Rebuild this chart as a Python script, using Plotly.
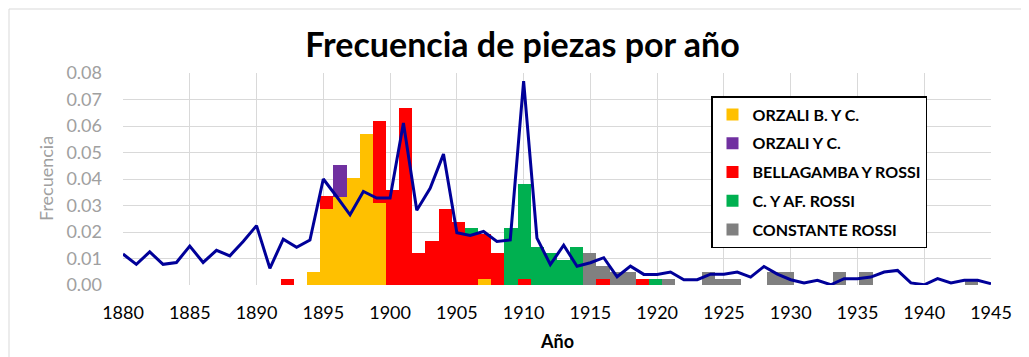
import plotly.graph_objects as go

# ---------------- data ----------------
years = list(range(1880, 1946))
line_freq = [
    0.0117, 0.0078, 0.0125, 0.0078, 0.0085, 0.0147, 0.0085, 0.0131, 0.0110, 0.0164,  # 1880-1889
    0.0224, 0.0063, 0.0173, 0.0142, 0.0170, 0.0400, 0.0334, 0.0265, 0.0353, 0.0328,  # 1890-1899
    0.0328, 0.0611, 0.0282, 0.0365, 0.0494, 0.0197, 0.0187, 0.0202, 0.0164, 0.0170,  # 1900-1909
    0.0769, 0.0177, 0.0077, 0.0150, 0.0071, 0.0084, 0.0103, 0.0031, 0.0071, 0.0040,  # 1910-1919
    0.0040, 0.0049, 0.0020, 0.0020, 0.0041, 0.0041, 0.0049, 0.0030, 0.0070, 0.0041,  # 1920-1929
    0.0020, 0.0008, 0.0018, 0.0001, 0.0024, 0.0024, 0.0030, 0.0049, 0.0055, 0.0008,  # 1930-1939
    0.0001, 0.0024, 0.0008, 0.0018, 0.0018, 0.0005,                                  # 1940-1945
]

orzali_b_years = [1894, 1895, 1896, 1897, 1898, 1899, 1907]
orzali_b_vals = [0.0048, 0.0286, 0.0333, 0.0405, 0.0571, 0.0310, 0.0024]

orzali_years = [1896]
orzali_vals = [0.0119]

bellagamba_years = [1892, 1895, 1899, 1900, 1901, 1902, 1903, 1904, 1905, 1906, 1907, 1908, 1910, 1916, 1919]
bellagamba_vals = [0.0024, 0.0048, 0.0310, 0.0357, 0.0667, 0.0119, 0.0167, 0.0286, 0.0238, 0.0190,
                   0.0167, 0.0119, 0.0024, 0.0024, 0.0024]

cyaf_years = [1906, 1909, 1910, 1911, 1912, 1913, 1914, 1920]
cyaf_vals = [0.0024, 0.0214, 0.0357, 0.0143, 0.0119, 0.0095, 0.0143, 0.0024]

constante_years = [1915, 1916, 1917, 1918, 1921, 1924, 1925, 1926, 1929, 1930, 1934, 1936, 1944]
constante_vals = [0.0119, 0.0048, 0.0048, 0.0048, 0.0024, 0.0048, 0.0024, 0.0024, 0.0048, 0.0048,
                  0.0048, 0.0048, 0.0024]

series = [
    ("ORZALI B. Y C.", orzali_b_years, orzali_b_vals, "#FFC000"),
    ("ORZALI Y C.", orzali_years, orzali_vals, "#7030A0"),
    ("BELLAGAMBA Y ROSSI", bellagamba_years, bellagamba_vals, "#FF0000"),
    ("C. Y AF. ROSSI", cyaf_years, cyaf_vals, "#00B050"),
    ("CONSTANTE ROSSI", constante_years, constante_vals, "#808080"),
]

x_ticks = list(range(1880, 1946, 5))
y_ticks = [0.00, 0.01, 0.02, 0.03, 0.04, 0.05, 0.06, 0.07, 0.08]

FONT = "Lato, 'Open Sans', sans-serif"

# ---------------- figure ----------------
fig = go.Figure()

for i, (name, xs, vs, col) in enumerate(series):
    fig.add_trace(go.Bar(
        x=xs, y=vs, name=name, width=1.0,
        marker=dict(color=col, line=dict(width=0)),
        xaxis="x", yaxis="y", legendgroup=f"g{i}",
    ))

fig.add_trace(go.Scatter(
    x=years, y=line_freq, mode="lines", name="Frecuencia",
    line=dict(color="#000099", width=3),
    xaxis="x2", yaxis="y", showlegend=False,
))

L, R, T, B = 115, 46, 65, 80
W, H = 1029, 357
pw, ph = W - L - R, H - T - B

fig.update_layout(
    width=W, height=H,
    margin=dict(l=L, r=R, t=T, b=B),
    paper_bgcolor="white", plot_bgcolor="white",
    barmode="stack", bargap=0,
    font=dict(family=FONT, color="black"),
    title=dict(text="<b>Frecuencia de piezas por año</b>",
               font=dict(family=FONT, size=34, color="black"),
               x=0.5, xref="container", xanchor="center",
               y=1 - 37 / H, yref="container", yanchor="middle"),
    xaxis=dict(range=[1879.5, 1945.5], showgrid=False, showticklabels=False,
               zeroline=False, showline=False, ticks=""),
    xaxis2=dict(range=[1880, 1945], overlaying="x", anchor="y", side="bottom",
                tickmode="array", tickvals=x_ticks, ticktext=[str(t) for t in x_ticks],
                showgrid=True, gridcolor="#D9D9D9", gridwidth=1.3,
                zeroline=False, showline=False, ticks="",
                tickfont=dict(family=FONT, size=18, color="#000000"),
                ticklabelstandoff=15),
    yaxis=dict(range=[0, 0.08], tickmode="array", tickvals=y_ticks,
               ticktext=[f"{v:.2f}" for v in y_ticks],
               showgrid=True, gridcolor="#D9D9D9", gridwidth=1.3,
               zeroline=False, showline=False, ticks="",
               tickfont=dict(family=FONT, size=18, color="#A0A0A0"),
               ticklabelstandoff=20),
    legend=dict(x=(703 - L) / pw, y=(H - B - 88) / ph, xanchor="left", yanchor="top",
                bgcolor="white", bordercolor="black", borderwidth=1.5,
                font=dict(family=FONT, size=16, color="black", weight="bold"),
                traceorder="grouped", tracegroupgap=5, itemwidth=30),
    annotations=[
        dict(text="<b>Año</b>", xref="paper", yref="paper",
             x=0.5, y=(H - B - 333) / ph, xanchor="center", yanchor="middle",
             showarrow=False, font=dict(family=FONT, size=18, color="black")),
        dict(text="Frecuencia", xref="paper", yref="paper",
             x=(38 - L) / pw, y=0.5, xanchor="center", yanchor="middle",
             textangle=-90, showarrow=False,
             font=dict(family=FONT, size=18, color="#A0A0A0")),
    ],
    shapes=[
        dict(type="rect", xref="paper", yref="paper", layer="below",
             x0=(1 - L) / pw, x1=(W - 2 - L) / pw,
             y0=(H - B - (H - 2)) / ph, y1=(H - B - 1) / ph,
             line=dict(color="#D9D9D9", width=1)),
    ],
)

fig.write_html("out.html")
